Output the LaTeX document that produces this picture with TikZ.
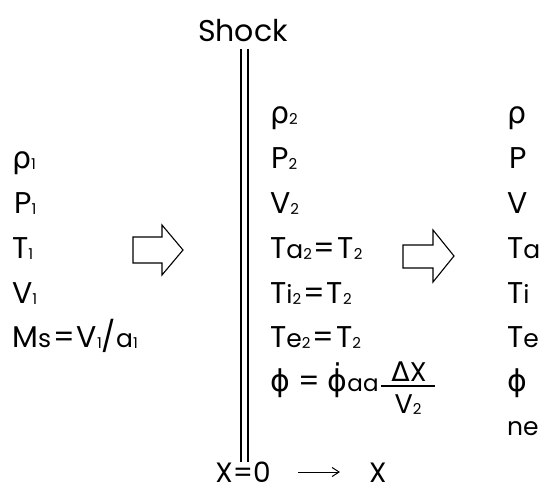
\documentclass[tikz,border=0pt]{standalone}
\usepackage{fontspec}
\usetikzlibrary{arrows.meta}
\setmainfont{Poppins}
\newfontfamily\gr{DejaVu Sans}
\newcommand\sbs[1]{\raisebox{-1pt}{\fontsize{15}{15}\selectfont #1}}
\newcommand\lc[1]{{\fontsize{25}{25}\selectfont #1}}
\newcommand\eqs{\hspace{2pt}=\hspace{2pt}}
\begin{document}
\begin{tikzpicture}[x=1pt,y=-1pt,
  lbl/.style={anchor=base west,inner sep=0pt,font=\fontsize{30}{30}\selectfont},
  frac/.style={anchor=base,inner sep=0pt,font=\fontsize{27}{27}\selectfont},
  blockarrow/.style={draw,line width=1.1pt,line join=miter},
  shockline/.style={line width=1.1pt}]
\useasboundingbox (0,0) rectangle (554,493);
\node[anchor=base,inner sep=0pt,font=\fontsize{30}{30}\selectfont] (shock) at (243,41) {Shock};
% shock lines
\coordinate (s1t) at (241,49); \coordinate (s1b) at (241,462);
\coordinate (s2t) at (248,49); \coordinate (s2b) at (248,462);
\draw[shockline] (s1t) -- (s1b);
\draw[shockline] (s2t) -- (s2b);
% left column
\node[lbl] (r1) at (12,168) {{\gr ρ}\sbs{1}};
\node[lbl] (p1) at (14,213) {P\sbs{1}};
\node[lbl] (t1) at (12,258) {T\sbs{1}};
\node[lbl] (v1) at (12,303) {V\sbs{1}};
\node[lbl] (ms) at (12,347) {M\lc{s}\eqs V\sbs{1}/\lc{a}\sbs{1}};
% middle column
\node[lbl] (r2) at (270,123) {{\gr ρ}\sbs{2}};
\node[lbl] (p2) at (271,168) {P\sbs{2}};
\node[lbl] (v2) at (270,213) {V\sbs{2}};
\node[lbl] (ta2) at (270,258) {T\lc{a}\sbs{2}\eqs T\sbs{2}};
\node[lbl] (ti2) at (270,303) {T\lc{i}\sbs{2}\eqs T\sbs{2}};
\node[lbl] (te2) at (270,347) {T\lc{e}\sbs{2}\eqs T\sbs{2}};
\node[lbl] (phi2) at (270,391) {{\gr ϕ} = {\gr\.{ϕ}}{\fontsize{23}{23}\selectfont aa}};
\coordinate (fl) at ([xshift=2pt,yshift=5pt]phi2.base east);
\coordinate (fr) at (435,386);
\draw[line width=1.1pt] (fl) -- (fr);
\node[frac] (num) at (409,381) {{\gr Δ}X};
\node[frac] (den) at (408,413) {V\sbs{2}};
% right column
\node[lbl] (r) at (507,123) {{\gr ρ}};
\node[lbl] (p) at (509,168) {P};
\node[lbl] (v) at (507,213) {V};
\node[lbl] (ta) at (507,258) {T\lc{a}};
\node[lbl] (ti) at (507,303) {T\lc{i}};
\node[lbl] (te) at (507,347) {T\lc{e}};
\node[lbl] (phi) at (507,391) {{\gr ϕ}};
\node[lbl] (ne) at (507,435) {\lc{ne}};
% block arrows
\draw[blockarrow] (133,237) -- (162,237) -- (162,225) -- (183,250) -- (162,275) -- (162,263) -- (133,263) -- cycle;
\draw[blockarrow] (403,245) -- (433,245) -- (433,230) -- (454,256) -- (433,282) -- (433,268) -- (403,268) -- cycle;
% bottom
\node[anchor=base,inner sep=0pt,font=\fontsize{28}{28}\selectfont] (x0) at (243,482) {X=0};
\node[anchor=base west,inner sep=0pt,font=\fontsize{28}{28}\selectfont] (xx) at (369,482) {X};
\coordinate (xa) at (298,472);
\coordinate (xb) at (340,472);
\draw[-{Straight Barb[length=7pt,width=9pt]},line width=1pt] (xa) -- (xb);
\end{tikzpicture}
\end{document}
